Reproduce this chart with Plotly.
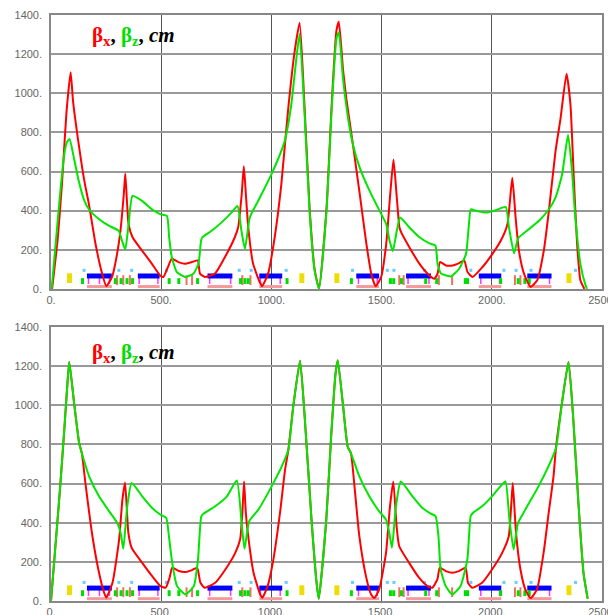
import plotly.graph_objects as go
from plotly.subplots import make_subplots

# ---------------- data ----------------
# top panel
top_sx = [5, 30, 50, 70, 89, 100, 126, 150, 172, 202, 232, 251, 277, 300, 315, 330, 337, 344, 352, 370, 413, 458,
          495, 510, 530, 548, 578, 608, 639, 666, 676, 699, 744, 789, 834, 849, 865, 875, 885, 895, 917, 947, 958,
          985, 1015, 1045, 1075, 1105, 1128, 1150, 1173, 1196, 1216, 1250, 1273, 1295, 1306, 1325, 1340, 1370,
          1401, 1431, 1453, 1473, 1498, 1521, 1539, 1554, 1569, 1581, 1589, 1626, 1672, 1717, 1739, 1754, 1765,
          1792, 1822, 1852, 1875, 1890, 1913, 1958, 2003, 2041, 2071, 2093, 2108, 2123, 2146, 2176, 2206, 2236,
          2259, 2289, 2312, 2339, 2357, 2372, 2387, 2402, 2420]
top_bx = [0, 250, 540, 900, 1108, 960, 737, 560, 433, 230, 78, 14, 61, 180, 297, 480, 590, 460, 331, 264, 196, 128,
          69, 61, 110, 154, 137, 128, 137, 145, 78, 61, 78, 162, 264, 314, 480, 627, 470, 314, 128, 35, 14,
          78, 264, 534, 906, 1210, 1360, 940, 420, 100, 3, 410, 930, 1320, 1365, 1120, 973, 737,
          483, 230, 78, 14, 61, 230, 483, 661, 466, 314, 289, 213, 128, 69, 52, 78, 137,
          120, 120, 132, 145, 86, 61, 112, 179, 247, 331, 568, 365, 196, 78, 10, 44, 196,
          399, 703, 872, 1100, 940, 568, 230, 44, 0]
top_sz = [3, 25, 45, 62, 72, 84, 104, 126, 149, 172, 217, 262, 307, 322, 337, 352, 370, 413, 458, 495, 526, 536,
          548, 571, 608, 646, 669, 681, 687, 729, 774, 819, 846, 864, 880, 902, 940, 1000, 1060, 1090, 1113, 1128,
          1150, 1173, 1196, 1216, 1250, 1273, 1295, 1306, 1325, 1348, 1370, 1401, 1446, 1491, 1521, 1536, 1551,
          1569, 1584, 1626, 1672, 1717, 1744, 1754, 1770, 1792, 1815, 1852, 1883, 1895, 1905, 1928, 1973, 2018,
          2063, 2078, 2101, 2116, 2123, 2169, 2214, 2259, 2289, 2319, 2346, 2364, 2379, 2402, 2425, 2432]
top_bz = [0, 280, 530, 700, 750, 766, 669, 551, 458, 407, 357, 323, 297, 247, 201, 331, 475, 450, 407, 382, 373, 264,
          162, 86, 61, 78, 128, 247, 264, 297, 340, 390, 424, 297, 204, 365, 450, 585, 754, 940, 1176, 1303,
          906, 399, 95, 0, 399, 906, 1278, 1311, 1075, 872, 737, 619, 500, 399, 331, 247, 193,
          297, 365, 314, 264, 233, 221, 128, 78, 69, 64, 103, 179, 314, 407, 399, 390, 402,
          419, 314, 182, 247, 264, 306, 348, 407, 466, 585, 788, 602, 365, 128, 19, 0]

# bottom panel
bot_sx = [0, 20, 40, 60, 75, 83, 105, 128, 140, 158, 188, 218, 241, 251, 279, 309, 324, 336, 351, 366, 414, 459,
          497, 520, 538, 550, 580, 610, 640, 663, 678, 697, 745, 791, 836, 858, 868, 876, 884, 893, 919, 949,
          959, 983, 1009, 1039, 1062, 1077, 1099, 1130, 1152, 1182, 1205, 1215, 1249, 1271, 1291, 1301, 1324,
          1346, 1361, 1377, 1399, 1429, 1452, 1467, 1489, 1520, 1538, 1553, 1568, 1580, 1625, 1670, 1708, 1730,
          1753, 1764, 1791, 1821, 1851, 1881, 1892, 1911, 1956, 2001, 2047, 2077, 2087, 2095, 2103, 2110, 2130,
          2152, 2176, 2205, 2235, 2258, 2280, 2291, 2318, 2348, 2370, 2393, 2416, 2435]
bot_bx = [0, 280, 560, 870, 1120, 1222, 1010, 806, 755, 586, 331, 144, 42, 17, 93, 314, 518, 606, 348, 272, 195, 127,
          76, 68, 119, 170, 153, 148, 158, 170, 93, 68, 93, 161, 246, 314, 450, 611, 450, 348, 144, 34,
          17, 76, 212, 450, 671, 773, 993, 1228, 925, 416, 93, 12, 416, 840, 1163, 1231, 1010,
          790, 755, 586, 331, 127, 34, 15, 59, 246, 484, 611, 382, 280, 195, 119, 76, 68,
          110, 170, 153, 144, 153, 170, 93, 68, 93, 161, 246, 331, 470, 603, 470, 348, 161,
          59, 15, 59, 246, 450, 637, 781, 1010, 1222, 925, 501, 144, 12]
bot_sz = [0, 20, 40, 60, 75, 83, 105, 128, 140, 173, 218, 264, 301, 316, 328, 346, 366, 414, 459, 497, 523, 535,
          550, 572, 610, 648, 667, 682, 693, 745, 798, 843, 866, 878, 899, 941, 1001, 1047, 1077, 1099, 1130,
          1152, 1182, 1205, 1215, 1249, 1271, 1291, 1301, 1324, 1346, 1361, 1399, 1444, 1489, 1520, 1535, 1547,
          1565, 1587, 1640, 1685, 1723, 1745, 1758, 1768, 1791, 1821, 1858, 1889, 1904, 1914, 1956, 2001, 2039,
          2062, 2080, 2099, 2119, 2152, 2212, 2257, 2291, 2318, 2348, 2370, 2393, 2416, 2435]
bot_bz = [0, 280, 560, 870, 1120, 1222, 1010, 806, 755, 637, 535, 458, 399, 348, 267, 484, 603, 535, 475, 441, 424, 331,
          195, 76, 34, 76, 212, 433, 447, 484, 535, 616, 382, 267, 407, 467, 586, 688, 773, 993, 1228,
          925, 416, 93, 12, 416, 840, 1163, 1231, 1010, 790, 755, 637, 535, 458, 416, 348, 272,
          484, 611, 535, 475, 447, 433, 331, 161, 76, 34, 76, 212, 433, 450, 484, 535, 586,
          611, 416, 263, 399, 467, 586, 688, 781, 1010, 1222, 925, 501, 144, 12]

for a, b in [(top_sx, top_bx), (top_sz, top_bz), (bot_sx, bot_bx), (bot_sz, bot_bz)]:
    assert len(a) == len(b), (len(a), len(b))

# lattice elements (same in both panels)
bend_start = [163, 394, 710, 945, 1385, 1611, 1941, 2161]
bend_end = [276, 493, 823, 1049, 1489, 1724, 2043, 2271]
yellow_s = [84, 1138, 1297, 2350]
quad_s = [143, 292, 318, 345, 370, 536, 580, 665, 860, 880, 895, 1071,
          1363, 1540, 1555, 1590, 1700, 1750, 1880, 1890, 2040, 2120, 2150, 2170]
sext_s = [300, 328, 358, 615, 640, 868, 905, 1580, 1600, 1760, 1820, 2105, 2130]
pick_s = [170, 220, 265, 400, 485, 720, 815, 950, 1040, 1395, 1480, 1620, 1715, 1950, 2035, 2170, 2262]
mon_s = [150, 308, 366, 524, 854, 908, 1067, 1368, 1526, 1556, 1694, 1905, 2055, 2110, 2178, 2380]

yt = [0, 200, 400, 600, 800, 1000, 1200, 1400]
yl = ["0.", "200.", "400.", "600.", "800.", "1000.", "1200.", "1400."]
xt = [0, 500, 1000, 1500, 2000, 2500]
xl = ["0.", "500.", "1000.", "1500.", "2000.", "2500."]

RED = "#ff0000"
GREEN = "#00e600"

fig = make_subplots(rows=2, cols=1, vertical_spacing=0.0652)


def seg(starts, ends, y):
    xs, ys = [], []
    for a, b in zip(starts, ends):
        xs += [a, b, None]
        ys += [y, y, None]
    return xs, ys


def ticks(pos, y0, y1):
    xs, ys = [], []
    for p in pos:
        xs += [p, p, None]
        ys += [y0, y1, None]
    return xs, ys


for r, (sx, bx, sz, bz) in enumerate([(top_sx, top_bx, top_sz, top_bz),
                                      (bot_sx, bot_bx, bot_sz, bot_bz)], start=1):
    xs, ys = seg(bend_start, bend_end, 12)
    fig.add_trace(go.Scatter(x=xs, y=ys, mode="lines", line=dict(color="#f49a9a", width=3),
                             hoverinfo="skip"), row=r, col=1)
    xs, ys = ticks(pick_s, 25, 65)
    fig.add_trace(go.Scatter(x=xs, y=ys, mode="lines", line=dict(color="#ff33ff", width=1.5),
                             hoverinfo="skip"), row=r, col=1)
    xs, ys = ticks(sext_s, 20, 70)
    fig.add_trace(go.Scatter(x=xs, y=ys, mode="lines", line=dict(color="#f07060", width=2),
                             hoverinfo="skip"), row=r, col=1)
    xs, ys = seg(bend_start, bend_end, 66)
    fig.add_trace(go.Scatter(x=xs, y=ys, mode="lines", line=dict(color="#0000ff", width=5),
                             hoverinfo="skip"), row=r, col=1)
    xs, ys = ticks(quad_s, 25, 55)
    fig.add_trace(go.Scatter(x=xs, y=ys, mode="lines", line=dict(color="#00dd00", width=3),
                             hoverinfo="skip"), row=r, col=1)
    fig.add_trace(go.Scatter(x=mon_s, y=[95] * len(mon_s), mode="markers",
                             marker=dict(color="#66ccff", size=3, symbol="square"),
                             hoverinfo="skip"), row=r, col=1)
    xs, ys = ticks(yellow_s, 30, 80)
    fig.add_trace(go.Scatter(x=xs, y=ys, mode="lines", line=dict(color="#eedd00", width=5),
                             hoverinfo="skip"), row=r, col=1)
    fig.add_trace(go.Scatter(x=sx, y=bx, mode="lines", line=dict(color=RED, width=2, shape="spline",
                                                                 smoothing=0.5)), row=r, col=1)
    fig.add_trace(go.Scatter(x=sz, y=bz, mode="lines", line=dict(color=GREEN, width=2, shape="spline",
                                                                 smoothing=0.5)), row=r, col=1)

    fig.update_xaxes(range=[0, 2500], tickvals=xt, ticktext=xl, showgrid=True, gridcolor="#555555",
                     gridwidth=1, showline=True, linecolor="#888888", linewidth=1.5, mirror=True,
                     zeroline=False, ticks="", ticklabeloverflow="allow", automargin=False,
                     tickfont=dict(family="Liberation Sans", size=11, color="#666666"),
                     row=r, col=1)
    fig.update_yaxes(range=[0, 1400], tickvals=yt, ticktext=yl, showgrid=True, gridcolor="#999999",
                     gridwidth=1.5, showline=True, linecolor="#888888", linewidth=1.5, mirror=True,
                     zeroline=False, ticks="", ticklabelstandoff=5, automargin=False,
                     tickfont=dict(family="Liberation Sans", size=11, color="#666666"),
                     row=r, col=1)

title = ('<b><span style="color:#ff0000">β<sub>x</sub></span>, '
         '<span style="color:#00dd00">β<sub>z</sub></span>, <i>cm</i></b>')
fig.add_annotation(text=title, xref="x domain", yref="y domain", x=0.07, y=0.925, xanchor="left",
                   yanchor="middle", showarrow=False,
                   font=dict(family="Liberation Serif", size=21, color="black"))
fig.add_annotation(text=title, xref="x2 domain", yref="y2 domain", x=0.07, y=0.905, xanchor="left",
                   yanchor="middle", showarrow=False,
                   font=dict(family="Liberation Serif", size=21, color="black"))

fig.update_layout(width=608, height=615, margin=dict(l=51, r=6, t=15, b=14), showlegend=False,
                  paper_bgcolor="white", plot_bgcolor="white", font=dict(family="Liberation Sans"))
fig.write_html("out.html", config={"displayModeBar": False},
               post_script="document.body.style.margin='0px';document.body.style.overflow='hidden';")
